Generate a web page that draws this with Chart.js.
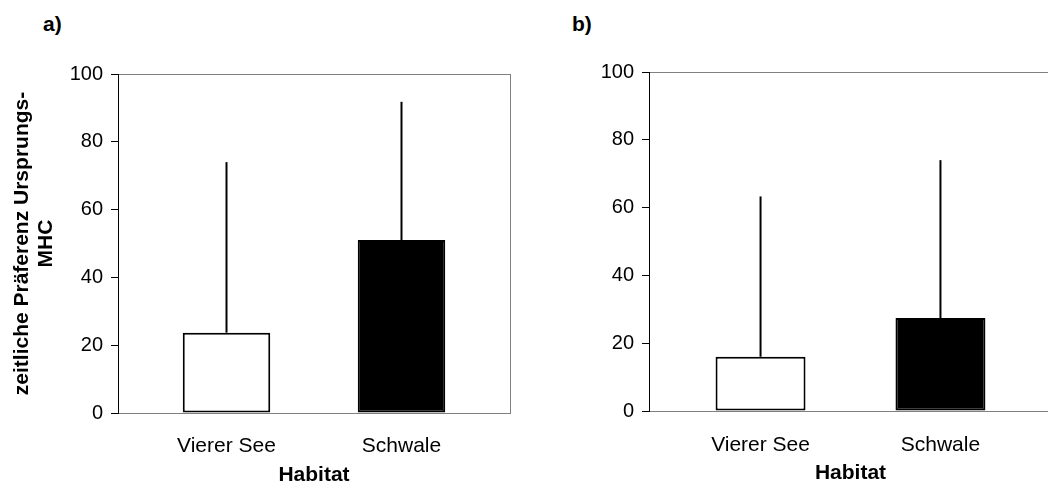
<!DOCTYPE html>
<html>
<head>
<meta charset="utf-8">
<script src="https://cdn.jsdelivr.net/npm/chart.js@4/dist/chart.umd.min.js"></script>
<style>
  html, body { margin: 0; padding: 0; background: #fff; }
  body { width: 1048px; height: 484px; overflow: hidden; position: relative; }
  .panel { position: absolute; top: 0; }
  .tag {
    position: absolute; top: 13px;
    font: bold 21px/21px "Liberation Sans", Arial, sans-serif; color: #000;
  }
</style>
</head>
<body>
<div class="tag" style="left:43px">a)</div>
<div class="tag" style="left:572px">b)</div>
<canvas id="chartA" class="panel" style="left:0" width="524" height="490"></canvas>
<canvas id="chartB" class="panel" style="left:524px" width="530" height="490"></canvas>
<script>
// Daten
const categories = ["Vierer See", "Schwale"];
const barColors = ["#ffffff", "#000000"];
const yTicks = [0, 20, 40, 60, 80, 100];

// a) Mittelwerte und Fehler (nur nach oben)
const meanA = [23.7, 51.0];
const errA = [50.3, 40.8];

// b) Mittelwerte und Fehler
const meanB = [16.0, 27.4];
const errB = [47.3, 46.6];

Chart.defaults.font.family = '"Liberation Sans", Arial, sans-serif';
Chart.defaults.color = "#000";

// Fehlerbalken: senkrechte Linie vom Balkenende nach oben
const errorBars = {
  id: "errorBars",
  afterDatasetsDraw(chart, args, opts) {
    const ctx = chart.ctx;
    const y = chart.scales.y;
    const meta = chart.getDatasetMeta(0);
    const data = chart.data.datasets[0].data;
    ctx.save();
    ctx.strokeStyle = "#000";
    ctx.lineWidth = 2;
    meta.data.forEach((bar, i) => {
      const top = y.getPixelForValue(data[i].y + opts.errors[i]);
      ctx.beginPath();
      ctx.moveTo(bar.x, bar.y);
      ctx.lineTo(bar.x, top);
      ctx.stroke();
    });
    ctx.restore();
  },
};

function createChart(canvasId, means, errors, geo) {
  const ctx = document.getElementById(canvasId).getContext("2d");
  return new Chart(ctx, {
    type: "bar",
    data: {
      datasets: [
        {
          data: means.map((v, i) => ({ x: i, y: v })),
          backgroundColor: barColors,
          borderColor: "#000",
          borderWidth: 2,
          borderSkipped: false,
          categoryPercentage: 1,
          barPercentage: 0.5,
        },
      ],
    },
    options: {
      responsive: false,
      animation: false,
      layout: {
        padding: { top: geo.top, right: geo.right, bottom: 0, left: 0 },
      },
      scales: {
        x: {
          type: "linear",
          offset: false,
          min: -0.62,
          max: 1.62,
          afterBuildTicks: (s) => {
            s.ticks = categories.map((c, i) => ({ value: i }));
          },
          afterFit: (s) => {
            s.height = geo.xHeight;
          },
          ticks: {
            autoSkip: false,
            maxRotation: 0,
            padding: geo.xPad,
            font: { size: 21 },
            callback: (v) => categories[v],
          },
          grid: { display: false, drawTicks: false, offset: false },
          border: { color: "#808080", width: 1 },
          title: {
            display: true,
            text: "Habitat",
            font: { size: 21, weight: "bold", lineHeight: 1.15 },
            padding: { top: 0, bottom: geo.titlePad },
          },
        },
        y: {
          min: 0,
          max: 100,
          afterBuildTicks: (s) => {
            s.ticks = yTicks.map((v) => ({ value: v }));
          },
          afterFit: (s) => {
            s.width = geo.left;
          },
          ticks: {
            padding: 8,
            font: { size: 20 },
          },
          grid: {
            color: (c) => (c.tick && c.tick.value === 100 ? "#808080" : "rgba(0,0,0,0)"),
            tickColor: "#000",
            tickLength: 7,
          },
          border: { color: "#000", width: 1 },
          title: {
            display: geo.yTitle,
            text: ["zeitliche Präferenz Ursprungs-", "MHC"],
            font: { size: 21, weight: "bold", lineHeight: 1.15 },
            padding: { top: 10, bottom: 0 },
          },
        },
        yRight: {
          position: "right",
          min: 0,
          max: 100,
          grid: { display: false, drawTicks: false },
          ticks: { display: false },
          border: { color: "#808080", width: 1 },
          afterFit: (s) => {
            s.width = 0;
          },
        },
      },
      plugins: {
        legend: { display: false },
        tooltip: { enabled: false },
        errorBars: { errors: errors },
      },
    },
    plugins: [errorBars],
  });
}

createChart("chartA", meanA, errA, {
  top: 74, right: 14, left: 118, xHeight: 77, xPad: 21, titlePad: 3, yTitle: true,
});
createChart("chartB", meanB, errB, {
  top: 72, right: 2, left: 125, xHeight: 79, xPad: 22, titlePad: 5, yTitle: false,
});
</script>
</body>
</html>
